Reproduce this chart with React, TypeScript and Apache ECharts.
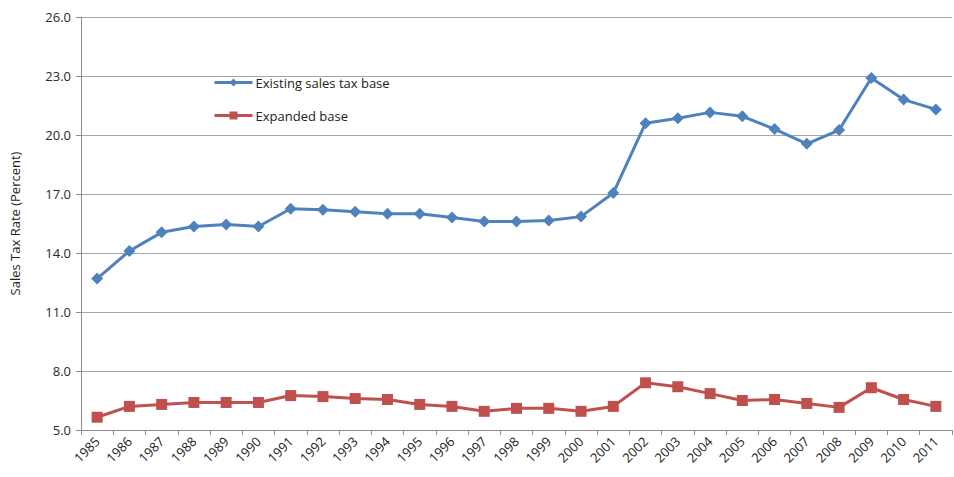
import React, { useEffect, useRef } from "react";
import * as echarts from "echarts";

const years = [
  "1985", "1986", "1987", "1988", "1989", "1990", "1991", "1992", "1993",
  "1994", "1995", "1996", "1997", "1998", "1999", "2000", "2001", "2002",
  "2003", "2004", "2005", "2006", "2007", "2008", "2009", "2010", "2011",
];

const existingBase = [
  12.7, 14.1, 15.05, 15.35, 15.45, 15.35, 16.25, 16.2, 16.1, 16.0, 16.0,
  15.8, 15.6, 15.6, 15.65, 15.85, 17.05, 20.6, 20.85, 21.15, 20.95, 20.3,
  19.55, 20.25, 22.9, 21.8, 21.3,
];

const expandedBase = [
  5.65, 6.2, 6.3, 6.4, 6.4, 6.4, 6.75, 6.7, 6.6, 6.55, 6.3, 6.2, 5.95, 6.1,
  6.1, 5.95, 6.2, 7.4, 7.2, 6.85, 6.5, 6.55, 6.35, 6.15, 7.15, 6.55, 6.2,
];

const FONT = "'Open Sans', 'Noto Sans', sans-serif";

export default function App() {
  const ref = useRef<HTMLDivElement>(null);

  useEffect(() => {
    if (!ref.current) return;
    const chart = echarts.init(ref.current, undefined, { renderer: "svg" });
    chart.setOption({
      animation: false,
      backgroundColor: "#ffffff",
      textStyle: { fontFamily: FONT },
      grid: { left: 78, right: 2, top: 17, bottom: 47 },
      legend: {
        orient: "vertical",
        left: 213,
        top: 76,
        padding: 0,
        itemWidth: 38,
        itemHeight: 10,
        itemGap: 20,
        lineStyle: { width: 3 },
        textStyle: { fontFamily: FONT, fontSize: 13, color: "#222", padding: [0, 0, 0, -2] },
        data: ["Existing sales tax base", "Expanded base"],
      },
      xAxis: {
        type: "category",
        data: years,
        boundaryGap: true,
        axisLine: { lineStyle: { color: "#8c8c8c", width: 1 } },
        axisTick: { show: true, alignWithLabel: false, length: 5, lineStyle: { color: "#8c8c8c" } },
        axisLabel: {
          rotate: 45,
          interval: 0,
          fontSize: 13,
          color: "#222",
          fontFamily: FONT,
          margin: 9,
        },
      },
      yAxis: {
        type: "value",
        min: 5,
        max: 26,
        interval: 3,
        name: "Sales Tax Rate (Percent)",
        nameLocation: "middle",
        nameGap: 60,
        nameTextStyle: { fontSize: 13, color: "#222", fontFamily: FONT },
        axisLine: { show: true, lineStyle: { color: "#8c8c8c", width: 1 } },
        axisTick: { show: true, length: 5, lineStyle: { color: "#8c8c8c" } },
        axisLabel: {
          fontSize: 13,
          color: "#2a2a2a",
          fontFamily: FONT,
          margin: 10,
          formatter: (v: number) => v.toFixed(1),
        },
        splitLine: { lineStyle: { color: "#a6a6a6", width: 1 } },
      },
      series: [
        {
          name: "Existing sales tax base",
          type: "line",
          data: existingBase,
          symbol: "diamond",
          symbolSize: 12,
          lineStyle: { color: "#4f81bd", width: 3 },
          itemStyle: { color: "#4f81bd" },
        },
        {
          name: "Expanded base",
          type: "line",
          data: expandedBase,
          symbol: "rect",
          symbolSize: 11,
          lineStyle: { color: "#c0504d", width: 3 },
          itemStyle: { color: "#c0504d" },
        },
      ],
    });
    return () => chart.dispose();
  }, []);

  return <div ref={ref} style={{ width: 954, height: 477, position: "absolute", left: 0, top: 0 }} />;
}
